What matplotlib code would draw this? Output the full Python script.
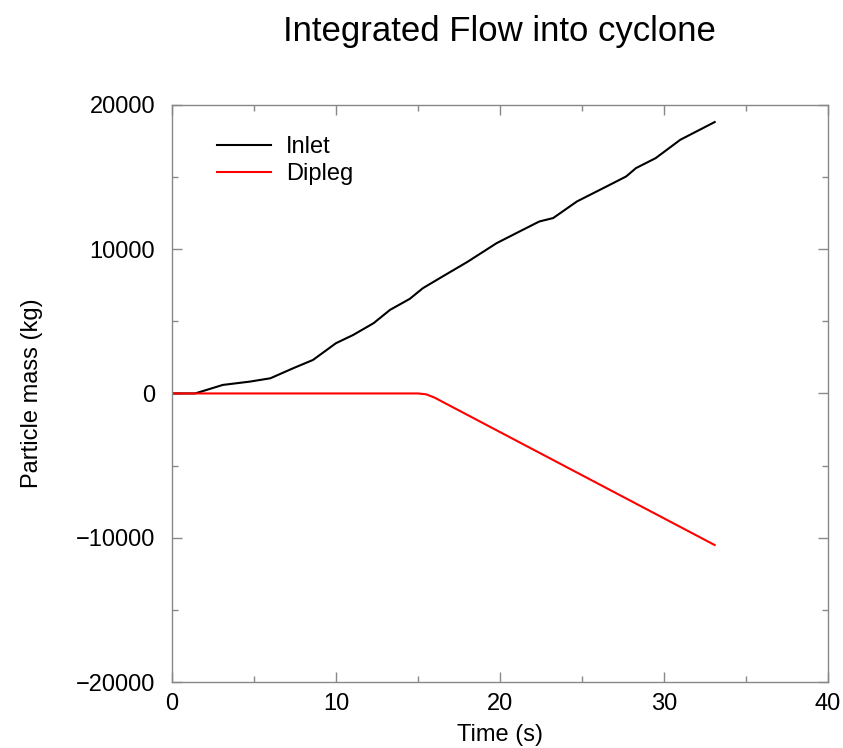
import numpy as np
import matplotlib.pyplot as plt
from matplotlib.ticker import MultipleLocator

# Inlet: integrated mass (kg) over time (s)
inlet_t = [0.0, 1.4, 1.5, 3.1, 4.75, 6.0, 7.4, 8.6, 10.0, 11.05, 12.3, 13.3, 14.5,
           15.3, 16.5, 18.0, 19.8, 21.2, 22.4, 23.25, 24.7, 26.7, 27.7, 28.3,
           29.5, 31.0, 33.1]
inlet_m = [0, 0, 30, 590, 820, 1050, 1750, 2320, 3480, 4050, 4870, 5790, 6550,
           7290, 8100, 9100, 10410, 11220, 11910, 12150, 13300, 14450, 15030,
           15610, 16300, 17570, 18800]

# Dipleg
dipleg_t = [0.0, 15.0, 15.5, 16.0, 33.1]
dipleg_m = [0, 0, -60, -280, -10500]

plt.rcParams['font.family'] = ['Liberation Sans', 'DejaVu Sans']

fig = plt.figure(figsize=(8.43, 7.48), dpi=100)
ax = fig.add_axes([0.204, 0.088, 0.778, 0.772])

ax.plot(inlet_t, inlet_m, color='black', lw=1.5, label='Inlet')
ax.plot(dipleg_t, dipleg_m, color='red', lw=1.5, label='Dipleg')

ax.set_xlim(0, 40)
ax.set_ylim(-20000, 20000)
ax.xaxis.set_major_locator(MultipleLocator(10))
ax.xaxis.set_minor_locator(MultipleLocator(5))
ax.yaxis.set_major_locator(MultipleLocator(10000))
ax.yaxis.set_minor_locator(MultipleLocator(5000))
ax.tick_params(which='both', direction='in', top=True, right=True,
               color='#888888', labelsize=17)
ax.tick_params(axis='x', pad=8)
ax.tick_params(axis='y', pad=12)
ax.tick_params(which='major', length=7, width=1)
ax.tick_params(which='minor', length=4, width=1)
for s in ax.spines.values():
    s.set_color('#888888')
    s.set_linewidth(1)

ax.set_xlabel('Time (s)', fontsize=17, va='center')
ax.set_ylabel('Particle mass (kg)', fontsize=17, va='center')
ax.xaxis.set_label_coords(0.5, -0.092)
ax.yaxis.set_label_coords(-0.213, 0.5)
fig.text(0.593, 0.958, 'Integrated Flow into cyclone', fontsize=25,
         ha='center', va='center')

ax.legend(loc='upper left', bbox_to_anchor=(0.037, 0.982), frameon=False,
          fontsize=17, handlelength=2.25, handletextpad=0.65, labelspacing=0.2)

fig.savefig('out.png', dpi=100)
